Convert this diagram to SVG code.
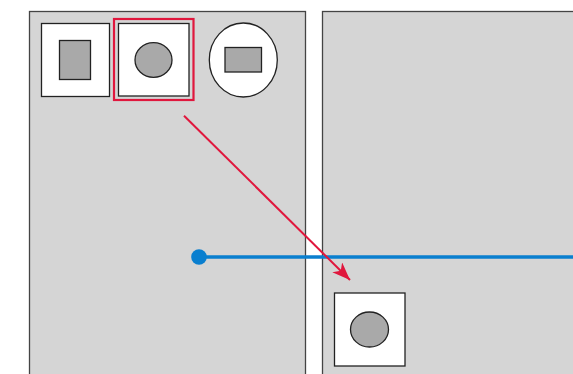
<svg xmlns="http://www.w3.org/2000/svg" width="573" height="374" viewBox="0 0 573 374">
<style>
.panel{fill:#d5d5d5;stroke:#444;stroke-width:1.3}
.box{fill:#fff;stroke:#222;stroke-width:1.3}
.shape{fill:#a9a9a9;stroke:#222;stroke-width:1.3}
</style>
<defs>
<marker id="arr" markerWidth="18" markerHeight="14" refX="18" refY="7" orient="auto" markerUnits="userSpaceOnUse" viewBox="0 0 18 14">
<path d="M0,0 L18,7 L0,14 L5,7 Z" fill="#e0173d"/>
</marker>
</defs>
<rect width="573" height="374" fill="#fff"/>
<g id="panel-left"><rect class="panel" x="29.5" y="11.5" width="276" height="370"/></g>
<g id="panel-right"><rect class="panel" x="322.5" y="11.5" width="260" height="370"/></g>
<g id="node-rect-box"><rect class="box" x="41.5" y="23.5" width="68" height="73"/><rect class="shape" x="59.5" y="40.5" width="31" height="39"/></g>
<g id="node-circle-box"><rect x="114" y="19" width="79.5" height="81" fill="none" stroke="#e0173d" stroke-width="2.2"/><rect class="box" x="118.5" y="23.5" width="70.5" height="72.5"/><ellipse class="shape" cx="153.5" cy="60" rx="18.5" ry="17.3"/></g>
<g id="node-ellipse"><ellipse class="box" cx="243.3" cy="60" rx="34" ry="37"/><rect class="shape" x="225" y="47.5" width="36.5" height="24.5"/></g>
<g id="node-target"><rect class="box" x="334.5" y="293" width="70.5" height="73"/><ellipse class="shape" cx="369.5" cy="329.5" rx="19" ry="17.5"/></g>
<g id="connectors">
<line x1="199" y1="257" x2="573" y2="257" stroke="#0a7fcf" stroke-width="3.3"/>
<circle cx="199" cy="257" r="7.8" fill="#0a7fcf"/>
<line x1="184" y1="115.7" x2="350" y2="280" stroke="#e0173d" stroke-width="2" marker-end="url(#arr)"/>
</g>
</svg>
